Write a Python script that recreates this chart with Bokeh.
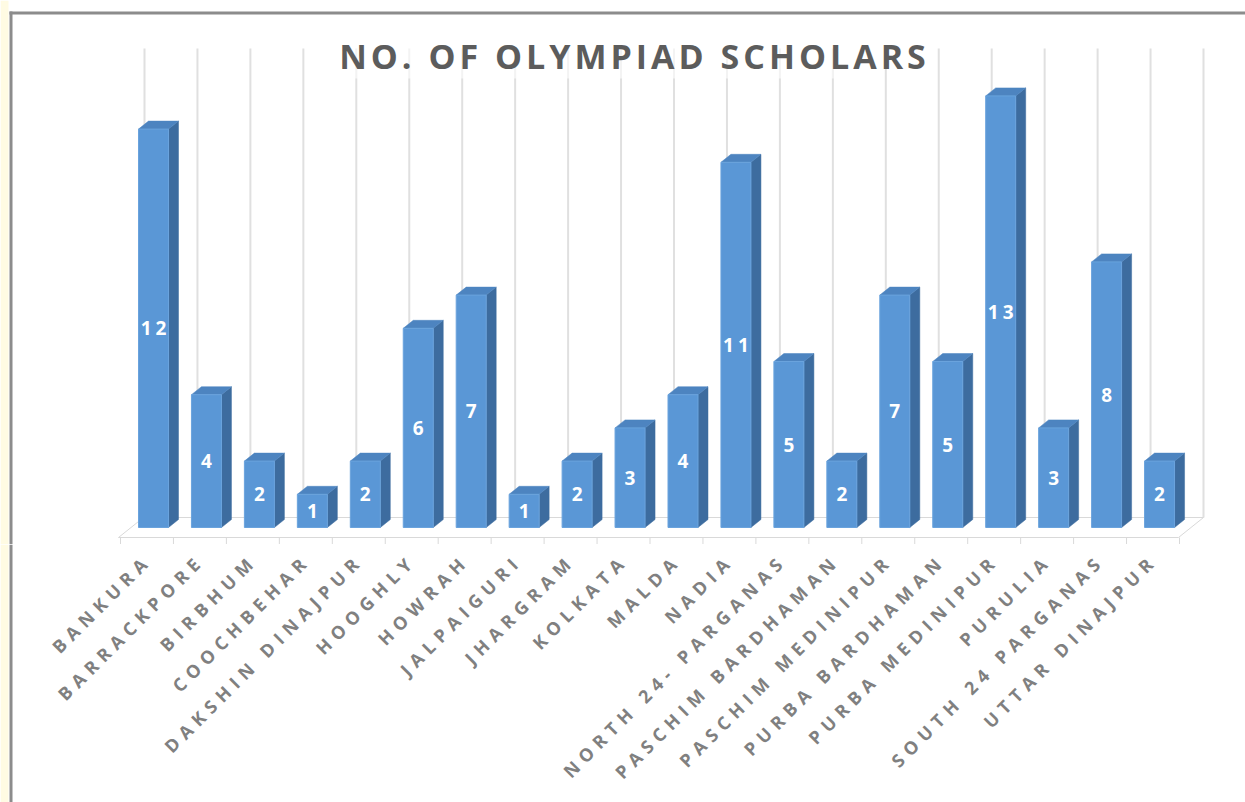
import numpy as np
from bokeh.plotting import figure
from bokeh.models import Range1d, Label, ColumnDataSource
from bokeh.layouts import column
from bokeh.core.properties import value
from bokeh.embed import file_html
from bokeh.resources import INLINE

# ---------------- data ----------------
districts = ["BANKURA", "BARRACKPORE", "BIRBHUM", "COOCHBEHAR", "DAKSHIN DINAJPUR",
             "HOOGHLY", "HOWRAH", "JALPAIGURI", "JHARGRAM", "KOLKATA", "MALDA", "NADIA",
             "NORTH 24- PARGANAS", "PASCHIM BARDHAMAN", "PASCHIM MEDINIPUR",
             "PURBA BARDHAMAN", "PURBA MEDINIPUR", "PURULIA", "SOUTH 24 PARGANAS",
             "UTTAR DINAJPUR"]
scholars = [12, 4, 2, 1, 2, 6, 7, 1, 2, 3, 4, 11, 5, 2, 7, 5, 13, 3, 8, 2]
title_text = "NO. OF OLYMPIAD SCHOLARS"

# ---------------- layout constants (pixels) ----------------
W, H_MAIN = 1245, 544
H_LAB = 802 - H_MAIN
X0, SX = 153.0, 52.95      # pixel of first category, pixels per category
Y0, SY = 527.0, 33.2       # pixel of value 0, pixels per unit
LS = 6.0                   # letter spacing of category labels (px)
LS_MAIN = 4.0              # letter spacing of title / value labels (px)

def px_x(xpix):
    return (xpix - X0) / SX

def px_y(ypix):
    return (Y0 - ypix) / SY

FONT = value("Open Sans")
x_range = Range1d(px_x(0), px_x(W))

# ---------------- main figure ----------------
p = figure(width=W, height=H_MAIN, x_range=x_range,
           y_range=Range1d(px_y(H_MAIN), px_y(0)),
           output_backend="svg", toolbar_location=None, tools="",
           min_border=0, background_fill_color="white", border_fill_color="white",
           styles={"letter-spacing": f"{LS_MAIN}px"})
p.xaxis.visible = False
p.yaxis.visible = False
p.grid.visible = False
p.outline_line_color = None

n = len(districts)
xs = np.arange(n, dtype=float)
vals = np.array(scholars, dtype=float)

# outer frame decorations
p.quad(left=px_x(0), right=px_x(8), bottom=px_y(H_MAIN), top=px_y(0),
       fill_color="#fffbe3", line_color=None)
p.segment(x0=px_x(10.5), y0=px_y(11), x1=px_x(10.5), y1=px_y(H_MAIN),
          line_color="#8c8c8c", line_width=3)
p.segment(x0=px_x(9), y0=px_y(12.5), x1=px_x(W), y1=px_y(12.5),
          line_color="#8c8c8c", line_width=3)

# back-wall category gridlines
gx = np.arange(n + 1) - 9 / SX
p.segment(x0=gx, y0=px_y(517), x1=gx, y1=px_y(48), line_color="#e0e0e0", line_width=2)

# floor
p.patch(x=[px_x(118), px_x(1178), px_x(1203), px_x(143)],
        y=[px_y(537), px_y(537), px_y(517), px_y(517)],
        fill_color="white", line_color="#d9d9d9", line_width=1)
tx = np.arange(n + 1) - 33 / SX
p.segment(x0=tx, y0=px_y(537), x1=tx, y1=px_y(544), line_color="#d9d9d9", line_width=1)

# 3D bars
hw = 15 / SX
ddx = 10 / SX
ddy = 8 / SY
left = xs - hw
right = xs + hw
side_x = [[r, r + ddx, r + ddx, r] for r in right]
side_y = [[0, ddy, v + ddy, v] for v in vals]
top_x = [[l, r, r + ddx, l + ddx] for l, r in zip(left, right)]
top_y = [[v, v, v + ddy, v + ddy] for v in vals]

p.patches(xs=side_x, ys=side_y, fill_color="#3d6c9f", line_color="#3d6c9f", line_width=0.5)
p.patches(xs=top_x, ys=top_y, fill_color="#4d84c0", line_color="#4d84c0", line_width=0.5)
labs = [str(v) for v in scholars]
src = ColumnDataSource(dict(left=left, right=right, top=vals, bottom=np.zeros(n),
                            x=xs, mid=vals / 2, lab=labs,
                            xo=[-(len(t) - 1) * LS_MAIN / 2 for t in labs]))
p.quad(left="left", right="right", bottom="bottom", top="top", source=src,
       fill_color="#5a97d6", line_color="#6aa3dd", line_width=1)

# value labels
p.text(x="x", y="mid", text="lab", source=src, x_offset="xo", text_align="center",
       text_baseline="middle", text_color="white", text_font=FONT,
       text_font_size="19px", text_font_style="bold")

# title
p.add_layout(Label(x=632, y=H_MAIN - 55, x_units="screen", y_units="screen",
                   x_offset=-(len(title_text) - 1) * LS_MAIN / 2,
                   text=title_text, text_align="center", text_baseline="middle",
                   text_font="Open Sans", text_font_size="34px", text_font_style="bold",
                   text_color="#5c5c5c", background_fill_color="white",
                   background_fill_alpha=0.6))

# ---------------- label figure ----------------
q = figure(width=W, height=H_LAB, x_range=x_range, y_range=Range1d(H_LAB, 0),
           output_backend="svg", toolbar_location=None, tools="",
           min_border=0, background_fill_color="white", border_fill_color="white",
           styles={"letter-spacing": f"{LS}px"})
q.xaxis.visible = False
q.yaxis.visible = False
q.grid.visible = False
q.outline_line_color = None

q.quad(left=px_x(0), right=px_x(8), bottom=H_LAB, top=0,
       fill_color="#fffbe3", line_color=None)
q.segment(x0=px_x(10.5), y0=0, x1=px_x(10.5), y1=H_LAB,
          line_color="#8c8c8c", line_width=3)

c45 = np.cos(np.pi / 4)
nchar = np.array([len(d) for d in districts])
lsrc = ColumnDataSource(dict(x=xs - 10 / SX, y=np.full(n, 561.0 - H_MAIN), t=districts,
                             xo=-(nchar - 1) * LS * c45, yo=(nchar - 1) * LS * c45))
q.text(x="x", y="y", text="t", source=lsrc, angle=np.pi / 4, x_offset="xo", y_offset="yo",
       text_align="right", text_baseline="middle", text_color="#808080",
       text_font=FONT, text_font_size="18px", text_font_style="bold")

layout = column(p, q, spacing=0)
open("out.html", "w").write(file_html(layout, INLINE))
